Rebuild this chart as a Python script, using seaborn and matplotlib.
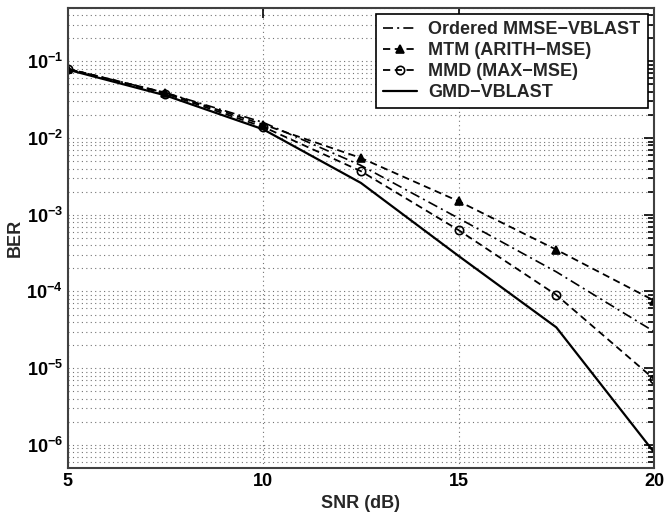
import numpy as np
import pandas as pd
import matplotlib
matplotlib.use('Agg')
import matplotlib.pyplot as plt
import seaborn as sns
from matplotlib.ticker import FixedLocator, NullFormatter, FuncFormatter

snr = [5, 7.5, 10, 12.5, 15, 17.5, 20]
ber_ordered = [0.08, 0.039, 0.016, 0.0044, 0.0009, 1.8e-4, 3.0e-5]
ber_mtm = [0.08, 0.039, 0.015, 0.0055, 0.0015, 3.5e-4, 7.6e-5]
ber_mmd = [0.08, 0.038, 0.014, 0.0037, 6.3e-4, 9.0e-5, 7.2e-6]
ber_gmd = [0.078, 0.036, 0.013, 0.0026, 2.9e-4, 3.4e-5, 8.0e-7]

labels = ['Ordered MMSE\u2212VBLAST', 'MTM (ARITH\u2212MSE)', 'MMD (MAX\u2212MSE)', 'GMD\u2212VBLAST']
x_ticks = [5, 10, 15, 20]
y_ticks = [1e-6, 1e-5, 1e-4, 1e-3, 1e-2, 1e-1]

sns.set_style('white')
plt.rcParams['font.family'] = ['Liberation Sans', 'DejaVu Sans']
plt.rcParams['font.weight'] = 'bold'
plt.rcParams['mathtext.fontset'] = 'custom'
plt.rcParams['mathtext.rm'] = 'Liberation Sans:bold'
plt.rcParams['mathtext.bf'] = 'Liberation Sans:bold'
plt.rcParams['mathtext.it'] = 'Liberation Sans:bold'

df = pd.DataFrame({
    'SNR': snr * 4,
    'BER': ber_ordered + ber_mtm + ber_mmd + ber_gmd,
    'scheme': [labels[0]] * 7 + [labels[1]] * 7 + [labels[2]] * 7 + [labels[3]] * 7,
})

fig = plt.figure(figsize=(6.64, 5.17), dpi=100)
ax = fig.add_axes([0.102, 0.095, 0.883, 0.89])

styles = {
    labels[0]: dict(linestyle=(0, (6, 2.5, 1.2, 2.5)), marker=None, lw=1.2),
    labels[1]: dict(linestyle=(0, (4, 2.5)), marker='^', lw=1.3, markerfacecolor='black'),
    labels[2]: dict(linestyle=(0, (4, 2.5)), marker='o', lw=1.3, markerfacecolor='none'),
    labels[3]: dict(linestyle='-', marker=None, lw=1.6),
}
for name in labels:
    sub = df[df['scheme'] == name]
    st = styles[name]
    sns.lineplot(data=sub, x='SNR', y='BER', ax=ax, color='black', label=name,
                 linestyle=st['linestyle'], marker=st['marker'], linewidth=st['lw'],
                 markersize=6, markeredgecolor='black',
                 markerfacecolor=st.get('markerfacecolor', 'black'),
                 markeredgewidth=1.2)

ax.set_yscale('log')
ax.set_xlim(5, 20)
ax.set_ylim(5e-7, 0.5)
ax.xaxis.set_major_locator(FixedLocator(x_ticks))
ax.yaxis.set_major_locator(FixedLocator(y_ticks))
minor = [m * d for d in [1e-7, 1e-6, 1e-5, 1e-4, 1e-3, 1e-2, 1e-1] for m in range(2, 10)]
minor = [v for v in minor if 5e-7 <= v <= 0.5]
ax.yaxis.set_minor_locator(FixedLocator(minor))
ax.yaxis.set_minor_formatter(NullFormatter())
ax.yaxis.set_major_formatter(FuncFormatter(lambda v, p: r'$10^{%d}$' % int(round(np.log10(v)))))

ax.grid(True, which='major', axis='both', linestyle=(0, (1, 3)), color='0.45', linewidth=0.8)
ax.grid(True, which='minor', axis='y', linestyle=(0, (1, 3)), color='0.45', linewidth=0.8)

ax.tick_params(which='both', direction='in', top=True, right=True, labelsize=13, width=1.2, colors='black')
ax.tick_params(which='major', length=7)
ax.tick_params(which='minor', length=4)
for s in ax.spines.values():
    s.set_color('0.25')
    s.set_linewidth(1.5)

ax.set_xlabel('SNR (dB)', fontsize=13, fontweight='bold', labelpad=4)
ax.set_ylabel('BER', fontsize=13, fontweight='bold', labelpad=2)

leg = ax.legend(loc='upper right', frameon=True, fancybox=False, edgecolor='black',
                fontsize=13, handlelength=1.9, borderpad=0.4, labelspacing=0.22,
                handletextpad=0.6, borderaxespad=0.35, framealpha=1)
leg.get_frame().set_linewidth(1.2)
for t in leg.get_texts():
    t.set_fontweight('bold')

fig.savefig('out.png', dpi=100)
